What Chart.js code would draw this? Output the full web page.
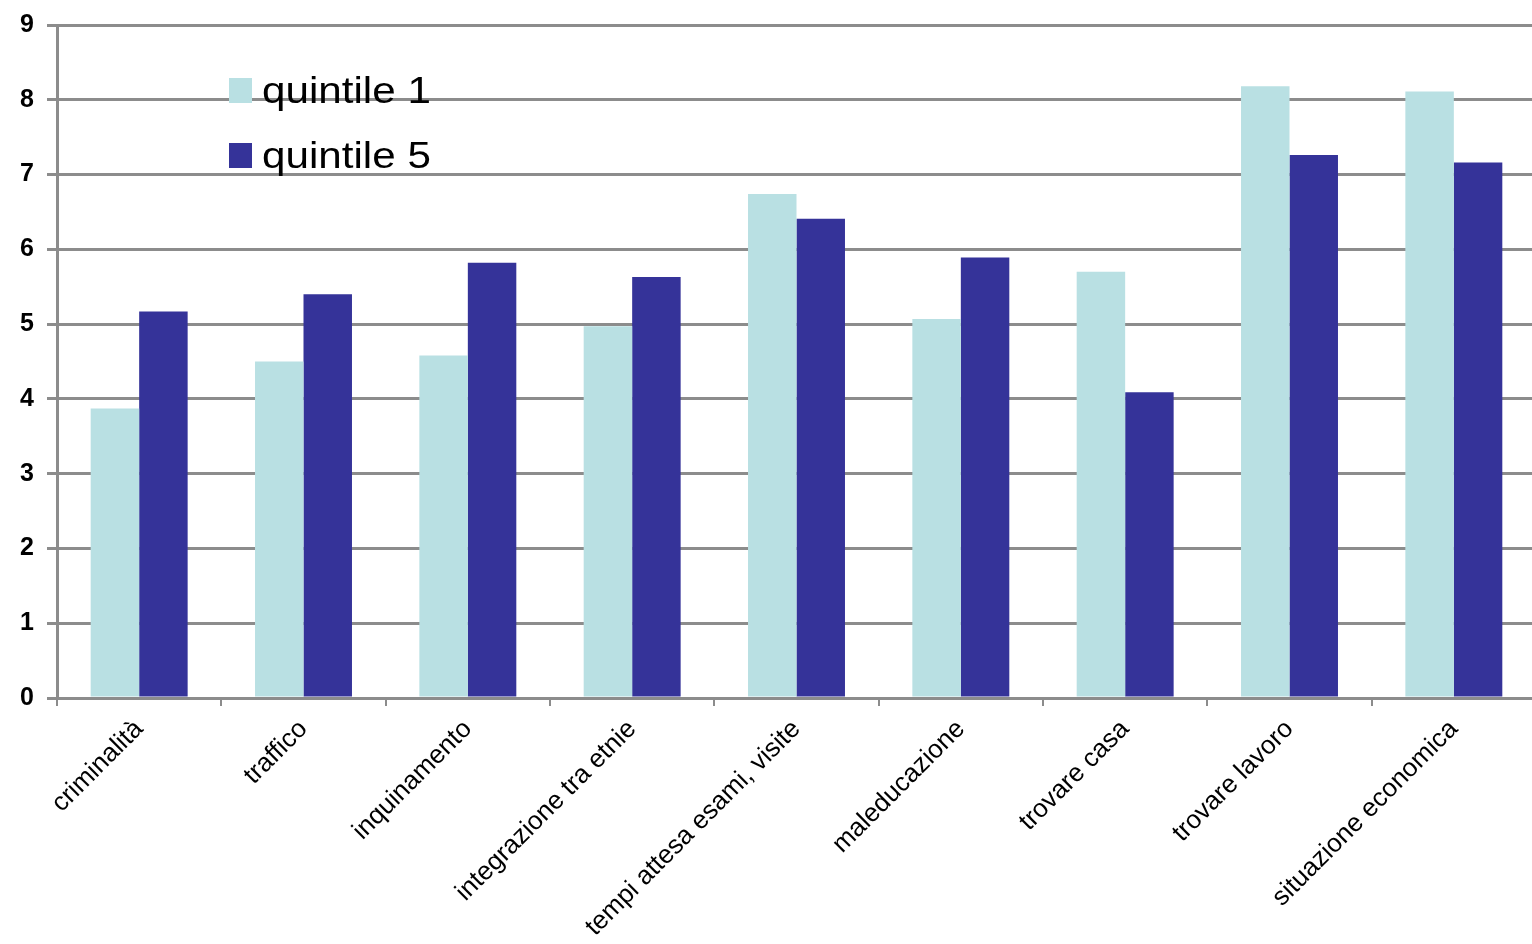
<!DOCTYPE html>
<html lang="it">
<head>
<meta charset="utf-8">
<title>Problemi per quintile</title>
<script src="https://cdn.jsdelivr.net/npm/chart.js@4/dist/chart.umd.min.js"></script>
<style>
    html, body {
        margin: 0;
        padding: 0;
        background: #ffffff;
        overflow: hidden;
    }

    #chart-wrap {
        width: 1536px;
        height: 944px;
        position: relative;
    }
</style>
</head>
<body>
<div id="chart-wrap">
    <canvas id="quintile-chart"></canvas>
</div>
<script>
// =========================================================
// DATA
// =========================================================

const categories = [
    "criminalità",
    "traffico",
    "inquinamento",
    "integrazione tra etnie",
    "tempi attesa esami, visite",
    "maleducazione",
    "trovare casa",
    "trovare lavoro",
    "situazione economica"
];

const quintile1Values = [3.87, 4.50, 4.58, 4.97, 6.74, 5.07, 5.70, 8.18, 8.11];
const quintile5Values = [5.17, 5.40, 5.82, 5.63, 6.41, 5.89, 4.09, 7.26, 7.16];

const seriesLabels = ["quintile 1", "quintile 5"];

const yTickValues = [0, 1, 2, 3, 4, 5, 6, 7, 8, 9];

// =========================================================
// STYLE
// =========================================================

const FONT_FAMILY = "'Liberation Sans', Arial, sans-serif";
const GRID_COLOR = "#8c8c8c";
const QUINTILE_1_COLOR = "#b9e0e3";
const QUINTILE_5_COLOR = "#353399";

// --- Legend drawn inside the plot area --- //

const insideLegendPlugin = {
    id: "insideLegend",
    afterDraw(chart) {
        const ctx = chart.ctx;
        const area = chart.chartArea;
        const datasets = chart.data.datasets;

        ctx.save();
        ctx.font = "37px " + FONT_FAMILY;
        ctx.textBaseline = "alphabetic";
        ctx.textAlign = "left";

        for (let datasetIndex = 0; datasetIndex < datasets.length; datasetIndex++) {
            const dataset = datasets[datasetIndex];
            const baseline = area.top + 78 + datasetIndex * 65;
            const boxLeft = area.left + 172;

            ctx.fillStyle = dataset.backgroundColor;
            ctx.fillRect(boxLeft, baseline - 25, 23, 25);

            // the legend text is slightly wider than a plain 37px face
            ctx.save();
            ctx.translate(boxLeft + 33, baseline);
            ctx.scale(1.14, 1);
            ctx.fillStyle = "#000000";
            ctx.fillText(dataset.label, 0, 0);
            ctx.restore();
        }

        ctx.restore();
    }
};

// =========================================================
// CHART
// =========================================================

function createQuintileChart() {
    const canvas = document.getElementById("quintile-chart");

    return new Chart(canvas, {
        type: "bar",
        data: {
            labels: categories,
            datasets: [
                {
                    label: seriesLabels[0],
                    data: quintile1Values,
                    backgroundColor: QUINTILE_1_COLOR
                },
                {
                    label: seriesLabels[1],
                    data: quintile5Values,
                    backgroundColor: QUINTILE_5_COLOR
                }
            ]
        },
        options: {
            responsive: true,
            maintainAspectRatio: false,
            animation: false,
            datasets: {
                bar: {
                    categoryPercentage: 0.59,
                    barPercentage: 1.0
                }
            },
            layout: {
                padding: {
                    top: 25,
                    right: 0,
                    bottom: 0,
                    left: 0
                }
            },
            scales: {
                x: {
                    grid: {
                        drawOnChartArea: false,
                        drawTicks: true,
                        tickLength: 8,
                        color: GRID_COLOR,
                        lineWidth: 2
                    },
                    border: {
                        color: GRID_COLOR,
                        width: 3
                    },
                    ticks: {
                        minRotation: 45,
                        maxRotation: 45,
                        autoSkip: false,
                        padding: 8,
                        color: "#000000",
                        font: {
                            family: FONT_FAMILY,
                            size: 26
                        }
                    },
                    afterFit(scale) {
                        scale.height = 246;
                    }
                },
                y: {
                    min: 0,
                    max: 9,
                    afterBuildTicks(scale) {
                        scale.ticks = yTickValues.map(value => ({ value: value }));
                    },
                    grid: {
                        color: GRID_COLOR,
                        lineWidth: 3,
                        tickLength: 10,
                        drawTicks: true
                    },
                    border: {
                        color: GRID_COLOR,
                        width: 3
                    },
                    ticks: {
                        padding: 13,
                        color: "#000000",
                        font: {
                            family: FONT_FAMILY,
                            size: 25,
                            weight: "bold"
                        }
                    },
                    afterFit(scale) {
                        scale.width = 57;
                        // the top "9" may run into the canvas edge
                        scale.paddingTop = 0;
                    }
                }
            },
            plugins: {
                legend: {
                    display: false
                },
                tooltip: {
                    enabled: false
                }
            }
        },
        plugins: [insideLegendPlugin]
    });
}

createQuintileChart();
</script>
</body>
</html>
